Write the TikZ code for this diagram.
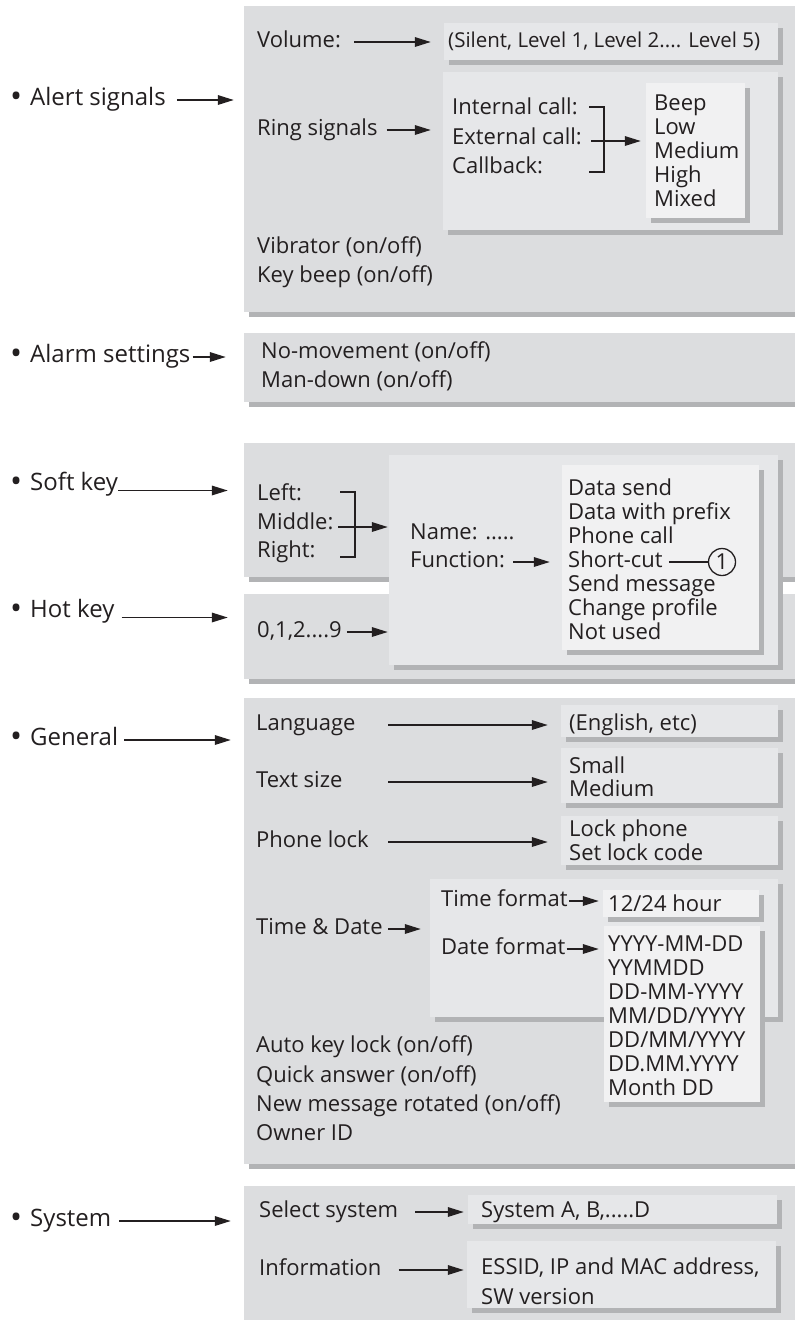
\documentclass[tikz,border=0pt]{standalone}
\usepackage{fontspec}
\setmainfont{Open Sans}
\usetikzlibrary{arrows.meta,fit,shadows}
\definecolor{panelgray}{RGB}{220,221,223}
\definecolor{midgray}{RGB}{230,231,233}
\definecolor{listgray}{RGB}{241,241,242}
\definecolor{shadowgray}{RGB}{178,179,181}
\definecolor{ink}{RGB}{35,31,32}
\newcommand{\bigdot}{\raisebox{-1.5pt}{\fontsize{32}{32}\selectfont •}\hspace{8pt}}

\begin{document}
\begin{tikzpicture}[x=1pt,y=-1pt,
    panel/.style={fill=panelgray,inner sep=0pt,general shadow={fill=shadowgray,shadow xshift=5pt,shadow yshift=-5pt}},
    subpanel/.style={panel,fill=midgray},
    listpanel/.style={panel,fill=listgray},
    lbl/.style={anchor=west,inner sep=0pt,text height=16pt,text depth=5.5pt,text=ink,font=\fontsize{22}{24}\selectfont},
    head/.style={lbl,text height=17pt,text depth=6pt,font=\fontsize{24}{28}\selectfont},
    arr/.style={draw=ink,line width=1.7pt,-{Triangle[length=16pt,width=9.5pt]}},
    brk/.style={draw=ink,line width=1.7pt}]
      \useasboundingbox (0,0) rectangle (795,1320);

      \node[panel,fit={(244,6) (810,312)}] (alertbox) {};
      \node[panel,fit={(244,333) (810,402)}] (alarmbox) {};
      \node[panel,fit={(244,443) (810,577)}] (softbox) {};
      \node[panel,fit={(244,594) (810,679)}] (hotbox) {};
      \node[panel,fit={(244,698) (810,1164)}] (generalbox) {};
      \node[panel,fit={(244,1186) (810,1330)}] (systembox) {};

      \node[subpanel,fit={(444,23) (778,60)}] (volbox) {};
      \node[subpanel,fit={(443,72) (778,230)}] (ringbox) {};
      \node[subpanel,fit={(389,455) (778,665)}] (namebox) {};
      \node[subpanel,fit={(561,705) (778,737)}] (langbox) {};
      \node[subpanel,fit={(561,748) (778,803)}] (sizebox) {};
      \node[subpanel,fit={(561,816) (778,865)}] (lockbox) {};
      \node[subpanel,fit={(430,879) (778,1017)}] (timebox) {};
      \node[subpanel,fit={(468,1195) (777,1224)}] (sysbox) {};
      \node[subpanel,fit={(467,1241) (776,1308)}] (infobox) {};

      \node[listpanel,fit={(646,83) (745,218)}] (beepbox) {};
      \node[listpanel,fit={(562,465) (759,650)}] (funcbox) {};
      \node[listpanel,fit={(603,890) (759,917)}] (hourbox) {};
      \node[listpanel,fit={(604,926) (760,1102)}] (datebox) {};

      % alert signals
      \node[head] (alert) at (10,100) {\bigdot Alert signals};
      \node[lbl] (vol) at (257,42) {Volume:};
      \node[lbl,font=\fontsize{20.5}{24}\selectfont] (volopt) at (448,42) {(Silent, Level 1, Level 2.... Level 5)};
      \node[lbl] (ring) at (257,130) {Ring signals};
      \node[lbl] (intcall) at (452,109) {Internal call:};
      \node[lbl] (extcall) at (452,139) {External call:};
      \node[lbl] (callback) at (452,168) {Callback:};
      \foreach \t [count=\i] in {Beep,Low,Medium,High,Mixed}
        \node[lbl] (tone\i) at (654,81+24*\i) {\t};
      \node[lbl] (vib) at (257,248) {Vibrator (on/off)};
      \node[lbl] (keybeep) at (257,277) {Key beep (on/off)};
      \coordinate (ringfork) at (591,141);
      \draw[brk] (589,107) -- (604,107) -- (604,172) -- (589,172);
      \draw[arr,shorten <=11pt,shorten >=10pt] (alert.east) -- (alert.east -| alertbox.west);
      \draw[arr,shorten <=13pt,shorten >=13pt] (vol.east) -- (vol.east -| volbox.west);
      \draw[arr,shorten <=9pt,shorten >=12pt] (ring.east) -- (ring.east -| ringbox.west);
      \draw[arr,shorten >=5pt] (ringfork) -- (ringfork -| beepbox.west);

      % alarm settings
      \node[head] (alarm) at (10,357) {\bigdot Alarm settings};
      \node[lbl] (nomove) at (261,353) {No-movement (on/off)};
      \node[lbl] (mandown) at (261,382) {Man-down (on/off)};
      \draw[arr,shorten <=2pt,shorten >=18pt] (alarm.east) -- (alarm.east -| alarmbox.west);

      % soft key and hot key
      \node[head] (soft) at (10,485) {\bigdot Soft key};
      \node[lbl] (left) at (257,495) {Left:};
      \node[lbl] (middle) at (257,524) {Middle:};
      \node[lbl] (right) at (257,552) {Right:};
      \node[lbl] (name) at (410,534) {Name: .....};
      \node[lbl] (function) at (410,562) {Function:};
      \foreach \t [count=\i] in {Data send,Data with prefix,Phone call,Short-cut,Send message,Change profile,Not used}
        \node[lbl] (fn\i) at (568,466+24*\i) {\t};
      \node[draw=ink,circle,line width=1.3pt,minimum size=27pt,inner sep=0pt,text=ink,font=\fontsize{22}{24}\selectfont] (note) at (722,562) {1};
      \node[head] (hot) at (10,612) {\bigdot Hot key};
      \node[lbl] (digits) at (257,632) {0,1,2....9};
      \coordinate (softfork) at (338,527);
      \draw[brk] (340,492) -- (355,492) -- (355,557) -- (340,557);
      \draw[arr,shorten >=16pt] (soft.base east) -- (soft.base east -| softbox.west);
      \draw[arr,shorten >=1pt] (softfork) -- (softfork -| namebox.west);
      \draw[arr,shorten <=8pt,shorten >=12pt] (function.east) -- (function.east -| funcbox.west);
      \draw[brk,line width=1.3pt,shorten <=6pt] (fn4.east) -- (note);
      \draw[arr,shorten <=7pt,shorten >=16pt] (hot.base east) -- (hot.base east -| hotbox.west);
      \draw[arr,shorten <=5pt,shorten >=1pt] (digits.east) -- (digits.east -| namebox.west);

      % general
      \node[head] (general) at (10,740) {\bigdot General};
      \node[lbl] (lang) at (256,725) {Language};
      \node[lbl] (langopt) at (569,725) {(English, etc)};
      \node[lbl] (size) at (256,782) {Text size};
      \node[lbl] (small) at (569,768) {Small};
      \node[lbl] (medium) at (569,791) {Medium};
      \node[lbl] (lock) at (256,842) {Phone lock};
      \node[lbl] (lockphone) at (569,831) {Lock phone};
      \node[lbl] (lockcode) at (569,855) {Set lock code};
      \node[lbl] (timedate) at (256,929) {Time \& Date};
      \node[lbl] (timefmt) at (441,901) {Time format};
      \node[lbl] (hour) at (608,906) {12/24 hour};
      \node[lbl] (datefmt) at (441,949) {Date format};
      \foreach \t [count=\i] in {YYYY-MM-DD,YYMMDD,DD-MM-YYYY,MM/DD/YYYY,DD/MM/YYYY,DD.MM.YYYY,Month DD}
        \node[lbl] (date\i) at (608,922+24*\i) {\t};
      \node[lbl] (autolock) at (256,1047) {Auto key lock (on/off)};
      \node[lbl] (quick) at (256,1077) {Quick answer (on/off)};
      \node[lbl] (rotate) at (256,1106) {New message rotated (on/off)};
      \node[lbl] (owner) at (256,1135) {Owner ID};
      \coordinate (gcol) at (388,0);
      \draw[arr,shorten <=6pt,shorten >=13pt] (general.east) -- (general.east -| generalbox.west);
      \draw[arr,shorten >=13pt] (lang.east -| gcol) -- (lang.east -| langbox.west);
      \draw[arr,shorten >=13pt] (size.east -| gcol) -- (size.east -| sizebox.west);
      \draw[arr,shorten >=13pt] (lock.east -| gcol) -- (lock.east -| lockbox.west);
      \draw[arr,shorten >=9pt] (timedate.east -| gcol) -- (timedate.east -| timebox.west);
      \draw[arr,shorten <=1pt,shorten >=4pt] (timefmt.east) -- (timefmt.east -| hourbox.west);
      \draw[arr,shorten <=1pt,shorten >=5pt] (datefmt.east) -- (datefmt.east -| datebox.west);

      % system
      \node[head] (system) at (10,1221) {\bigdot System};
      \node[lbl] (select) at (259,1212) {Select system};
      \node[lbl] (sysopt) at (481,1212) {System A, B,.....D};
      \node[lbl] (info) at (259,1270) {Information};
      \node[lbl] (essid) at (481,1269) {ESSID, IP and MAC address,};
      \node[lbl] (swver) at (481,1299) {SW version};
      \draw[arr,shorten <=8pt,shorten >=13pt] (system.east) -- (system.east -| systembox.west);
      \draw[arr,shorten <=17pt,shorten >=4pt] (select.east) -- (select.east -| sysbox.west);
      \draw[arr,shorten <=17pt,shorten >=3pt] (info.east) -- (info.east -| infobox.west);

    \end{tikzpicture}
\end{document}
